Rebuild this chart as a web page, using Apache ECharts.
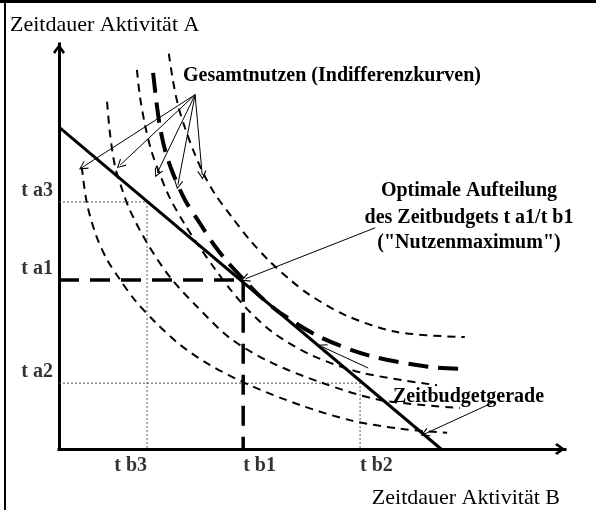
<!DOCTYPE html>
<html>
<head>
<meta charset="utf-8">
<title>Zeitbudget und Indifferenzkurven</title>
<script src="https://cdn.jsdelivr.net/npm/echarts@6/dist/echarts.min.js"></script>
<style>
  html, body { margin: 0; padding: 0; background: #fff; }
  #chart { width: 596px; height: 510px; }
</style>
</head>
<body>
<div id="chart"></div>
<script>
// x: Zeitdauer Aktivität B, y: Zeitdauer Aktivität A (beliebige Einheiten)
const xMax = 10;
const yMax = 8;

// Zeitbudgetgerade (Achsenabschnitte)
const budgetLine = [[0, 6.36], [7.55, 0]];

// Indifferenzkurven von innen nach außen
const curveA = [[0.45, 5.57], [0.55, 4.86], [0.73, 4.23], [0.95, 3.74], [1.21, 3.34], [1.5, 2.94],
  [1.9, 2.51], [2.39, 2.06], [2.98, 1.66], [3.77, 1.26], [4.76, 0.87], [5.75, 0.57], [6.74, 0.4],
  [7.67, 0.32]];
const curveB = [[0.95, 6.86], [1.01, 6.21], [1.11, 5.57], [1.25, 5.12], [1.4, 4.72], [1.74, 4.07],
  [2.19, 3.4], [2.69, 2.85], [3.38, 2.19], [4.17, 1.72], [5.16, 1.32], [6.34, 0.97], [7.92, 0.81]];
const curveC = [[1.54, 7.49], [1.6, 6.96], [1.7, 6.4], [1.82, 5.91], [1.96, 5.51], [2.19, 4.96],
  [2.49, 4.43], [2.79, 3.97], [3.08, 3.56], [3.38, 3.16], [3.77, 2.71], [4.27, 2.27], [5.02, 1.84],
  [6.01, 1.5], [7.47, 1.26]];
// die Kurve, die die Gerade berührt (Nutzenmaximum)
const curveD = [[1.86, 7.43], [1.92, 6.9], [2.0, 6.34], [2.11, 5.85], [2.27, 5.4], [2.49, 4.92],
  [2.79, 4.45], [3.08, 4.01], [3.36, 3.66], [3.64, 3.36], [3.97, 3.02], [4.37, 2.69], [5.16, 2.21],
  [6.15, 1.84], [7.33, 1.62], [8.06, 1.58]];
const curveE = [[2.17, 7.81], [2.25, 7.29], [2.35, 6.8], [2.49, 6.34], [2.65, 5.91], [2.85, 5.45],
  [3.08, 5.04], [3.44, 4.55], [3.77, 4.13], [4.17, 3.7], [4.57, 3.34], [4.96, 3.04], [5.69, 2.63],
  [6.68, 2.31], [8.02, 2.21]];

const taTicks = [4.88, 3.34, 1.3];
const taLabels = ['t a3', 't a1', 't a2'];
const tbTicks = [1.74, 3.64, 5.95];
const tbLabels = ['t b3', 't b1', 't b2'];

// Hinweispfeile
const curveNoteFrom = [2.69, 7.0];
const curveNoteTo = [[0.47, 5.57], [1.21, 5.61], [1.94, 5.45], [2.35, 5.22], [2.83, 5.41]];
const optimumNote = [[6.25, 4.37], [3.68, 3.36]];
const budgetNotes = [[[8.56, 0.91], [7.23, 0.3]], [[6.11, 1.6], [5.2, 2.02]]];

const titleA = 'Zeitdauer Aktivität A';
const titleB = 'Zeitdauer Aktivität B';
const curveNote = 'Gesamtnutzen (Indifferenzkurven)';
const optimumText = ['Optimale Aufteilung', 'des Zeitbudgets t a1/t b1', '("Nutzenmaximum")'];
const budgetText = 'Zeitbudgetgerade';

const SERIF = '"Liberation Serif", "Times New Roman", serif';
const axisArrow = 'path://M6,0 L12,8 L10,10 L6,4 L2,10 L0,8 Z';
const thinArrow = 'path://M5,0 L10,9 L9,9.7 L5,2.2 L1,9.7 L0,9 Z';

const chart = echarts.init(document.getElementById('chart'));

function guide(v, h) {
  return [[0, h], [v, h], [v, 0]];
}

function curve(data, thick) {
  return {
    type: 'line',
    data: data,
    showSymbol: false,
    smooth: 0.3,
    lineStyle: thick
      ? { color: '#000', width: 4, type: [20, 10] }
      : { color: '#000', width: 2, type: [8, 6] },
    z: 3
  };
}

const arrowLines = curveNoteTo.map(p => ({ coords: [curveNoteFrom, p] }))
  .concat([{ coords: optimumNote }])
  .concat(budgetNotes.map(c => ({ coords: c })));

function label(text, x, y, align, bold) {
  return {
    type: 'text',
    x: x,
    y: y,
    style: {
      text: text,
      font: (bold ? 'bold 20px ' : '22px ') + SERIF,
      fill: '#000',
      align: align,
      verticalAlign: 'middle'
    }
  };
}

const tickFont = { fontFamily: SERIF, fontWeight: 'bold', fontSize: 20, color: '#000' };

chart.setOption({
  animation: false,
  backgroundColor: '#fff',
  grid: { left: 59, top: 44, width: 506, height: 405 },
  xAxis: {
    type: 'value', min: 0, max: xMax,
    axisLine: {
      show: true, onZero: false,
      lineStyle: { color: '#000', width: 3, cap: 'square' },
      symbol: ['none', axisArrow], symbolSize: [12, 10], symbolOffset: [0, -5]
    },
    axisTick: { show: false }, axisLabel: { show: false }, splitLine: { show: false }
  },
  yAxis: {
    type: 'value', min: 0, max: yMax,
    axisLine: {
      show: true, onZero: false,
      lineStyle: { color: '#000', width: 3, cap: 'square' },
      symbol: ['none', axisArrow], symbolSize: [12, 10], symbolOffset: [0, -5]
    },
    axisTick: { show: false }, axisLabel: { show: false }, splitLine: { show: false }
  },
  series: [
    {
      type: 'line', data: guide(tbTicks[0], taTicks[0]), showSymbol: false,
      lineStyle: { color: '#555', width: 1, type: [2, 2] }, z: 1
    },
    {
      type: 'line', data: guide(tbTicks[2], taTicks[2]), showSymbol: false,
      lineStyle: { color: '#555', width: 1, type: [2, 2] }, z: 1
    },
    {
      type: 'line', data: guide(tbTicks[1], taTicks[1]), showSymbol: false,
      lineStyle: { color: '#000', width: 3.5, type: [20, 11] }, z: 2
    },
    curve(curveA, false),
    curve(curveB, false),
    curve(curveC, false),
    curve(curveD, true),
    curve(curveE, false),
    {
      type: 'line', data: budgetLine, showSymbol: false,
      lineStyle: { color: '#000', width: 3 }, z: 4
    },
    {
      type: 'lines', coordinateSystem: 'cartesian2d', data: arrowLines,
      symbol: ['none', thinArrow], symbolSize: [7, 9],
      lineStyle: { color: '#000', width: 1, opacity: 1 }, z: 5
    },
    {
      type: 'scatter', data: taTicks.map(v => [0, v]), symbolSize: 0, silent: true,
      label: Object.assign({
        show: true, position: 'left', distance: 6, offset: [0, -11],
        formatter: p => taLabels[p.dataIndex]
      }, tickFont)
    },
    {
      type: 'scatter', symbolSize: 0, silent: true,
      // erstes Label endet an seiner Linie, die anderen beginnen dort
      data: tbTicks.map((v, i) => ({ value: [v, 0], label: { align: i === 0 ? 'right' : 'left' } })),
      label: Object.assign({
        show: true, position: 'bottom', distance: 7,
        formatter: p => tbLabels[p.dataIndex]
      }, tickFont)
    }
  ],
  graphic: [
    { type: 'line', shape: { x1: 0, y1: 1.5, x2: 596, y2: 1.5 }, style: { stroke: '#000', lineWidth: 3 } },
    { type: 'line', shape: { x1: 5, y1: 0, x2: 5, y2: 510 }, style: { stroke: '#000', lineWidth: 2 } },
    label(titleA, 10, 25, 'left', false),
    label(titleB, 560, 498, 'right', false),
    label(curveNote, 183, 76, 'left', true),
    label(optimumText[0], 469, 191, 'center', true),
    label(optimumText[1], 469, 218, 'center', true),
    label(optimumText[2], 469, 243, 'center', true),
    label(budgetText, 393, 397, 'left', true)
  ]
});
</script>
</body>
</html>
